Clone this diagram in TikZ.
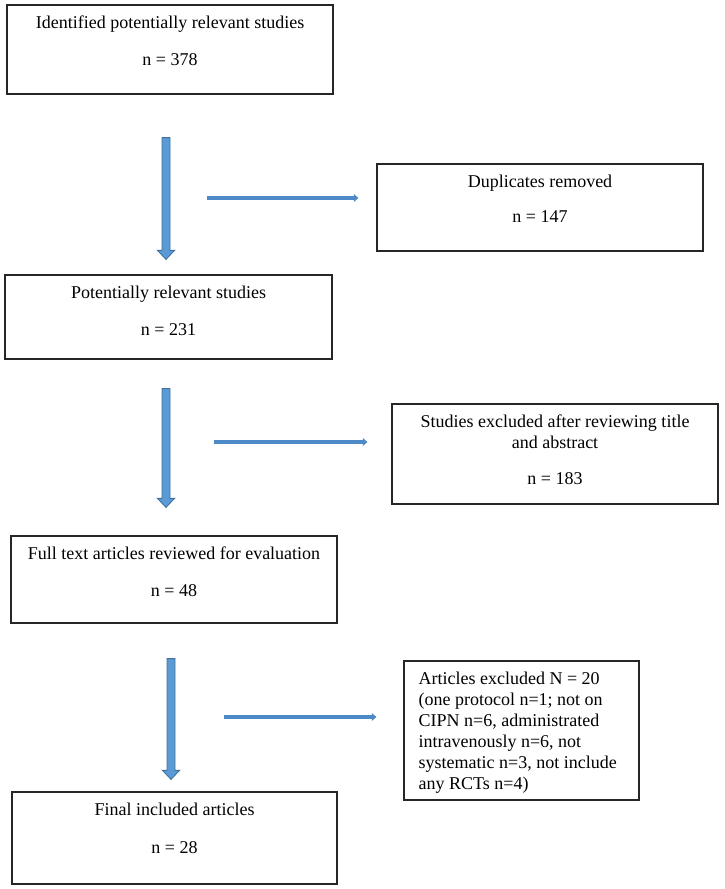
\documentclass[tikz,border=0pt]{standalone}
\usepackage{fontspec}
\setmainfont{Liberation Serif}
\usetikzlibrary{calc,arrows.meta}
\definecolor{arrfill}{HTML}{5B9BD5}
\definecolor{arrline}{HTML}{41719C}
\definecolor{harrcol}{HTML}{4E89C7}
\newcommand\mydownarrow[2]{%
  \draw[blkarrow] let \p1=(#1), \p2=(#2) in
    (\x1-4pt,\y1) -- (\x1+4pt,\y1) -- (\x1+4pt,\y2+9pt) -- (\x1+8.5pt,\y2+9pt)
    -- (\x1,\y2) -- (\x1-8.5pt,\y2+9pt) -- (\x1-4pt,\y2+9pt) -- cycle;}
\begin{document}
\begin{tikzpicture}[x=1pt,y=-1pt,
  box/.style={draw=black!85, line width=1.2pt, inner sep=0pt},
  txt/.style={font=\fontsize{18}{21}\selectfont, align=center, inner sep=0pt},
  blkarrow/.style={fill=arrfill, draw=arrline, line width=0.9pt, line join=miter},
  harrow/.style={draw=harrcol, line width=4pt, -{Triangle[width=7.5pt,length=4.5pt]}}]
\useasboundingbox (0,0) rectangle (724,889);

% boxes
\node[box, minimum width=326pt, minimum height=89pt] (b1) at (170,49.5) {};
\node[box, minimum width=326pt, minimum height=87pt] (dup) at (540,207.5) {};
\node[box, minimum width=327pt, minimum height=84pt] (b2) at (168.5,317) {};
\node[box, minimum width=326pt, minimum height=100pt] (excl) at (555,454) {};
\node[box, minimum width=326pt, minimum height=87pt] (b3) at (174,579.5) {};
\node[box, minimum width=235pt, minimum height=139pt] (art) at (521.5,730.5) {};
\node[box, minimum width=325pt, minimum height=92pt] (fin) at (174.5,838) {};

% texts
\node[txt, anchor=north] (t1) at ($(b1.north)+(0,9.3)$) {\strut Identified potentially relevant studies\\[16pt]n = 378};
\node[txt, anchor=north] (tdup) at ($(dup.north)+(0,9.3)$) {\strut Duplicates removed\\[14pt]n = 147};
\node[txt, anchor=north] (t2) at ($(b2.north)+(0,9.3)$) {\strut Potentially relevant studies\\[16pt]n = 231};
\node[txt, anchor=north] (texcl) at ($(excl.north)+(0,9.3)$) {\strut Studies excluded after reviewing title\\and abstract\\[15pt]n = 183};
\node[txt, anchor=north] (t3) at ($(b3.north)+(0,9.3)$) {\strut Full text articles reviewed for evaluation\\[16pt]n = 48};
\node[txt, align=left, anchor=north west] (tart) at ($(art.north west)+(15,9.3)$) {\strut Articles excluded N = 20\\(one protocol n=1; not on\\CIPN n=6, administrated\\intravenously n=6, not\\systematic n=3, not include\\any RCTs n=4)};
\node[txt, anchor=north] (tfin) at ($(fin.north)+(0,9.3)$) {\strut Final included articles\\[17pt]n = 28};

% down block arrows
\coordinate (d1s) at ($(b1.south)+(-4,43)$);
\coordinate (d1e) at ($(b2.north)+(-4,-15)$);
\coordinate (d2s) at ($(b2.south)+(-2.5,29)$);
\coordinate (d2e) at ($(b3.north)+(-2.5,-28)$);
\coordinate (d3s) at ($(b3.south)+(-3,35)$);
\coordinate (d3e) at ($(fin.north)+(-3,-12)$);
\mydownarrow{d1s}{d1e}
\mydownarrow{d2s}{d2e}
\mydownarrow{d3s}{d3e}

% horizontal arrows
\coordinate (h1) at ($(dup.west)+(-169,-9.5)$);
\coordinate (h2) at ($(excl.west)+(-177,-12)$);
\coordinate (h3) at ($(art.west)+(-179,-13.5)$);
\draw[harrow, shorten >=18pt] (h1) -- (h1 -| dup.west);
\draw[harrow, shorten >=24pt] (h2) -- (h2 -| excl.west);
\draw[harrow, shorten >=27pt] (h3) -- (h3 -| art.west);
\end{tikzpicture}
\end{document}
